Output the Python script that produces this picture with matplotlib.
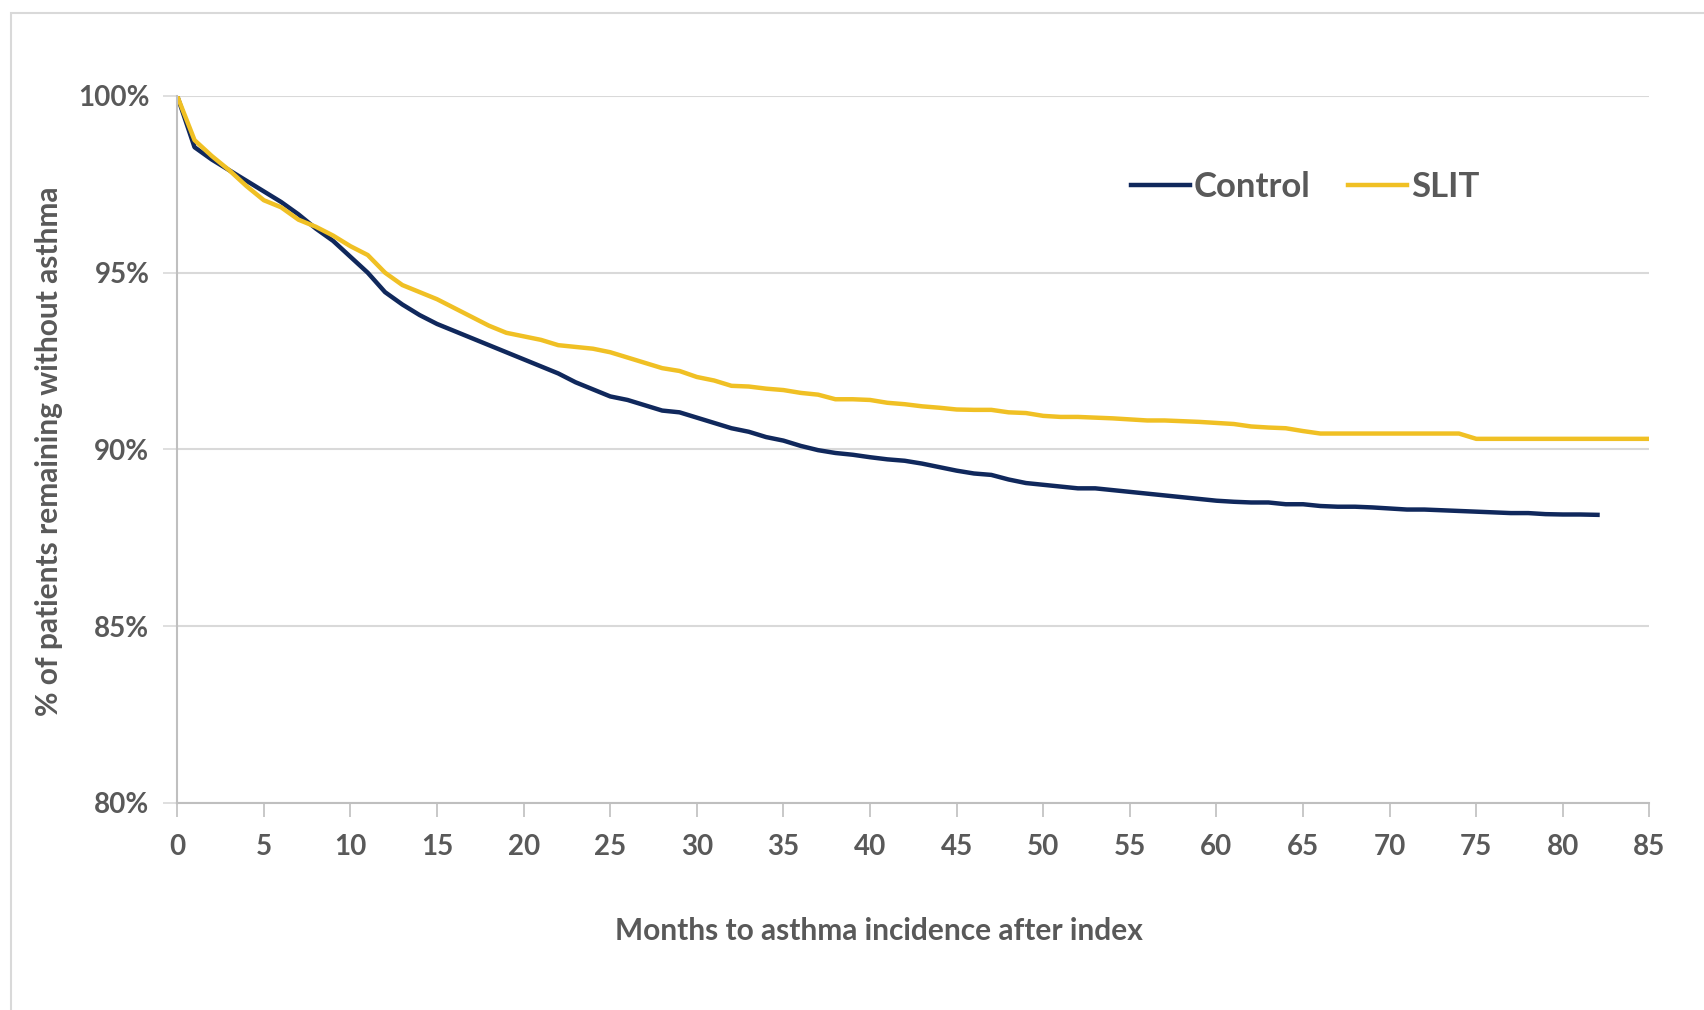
import numpy as np
import matplotlib.pyplot as plt
from matplotlib.patches import Rectangle

# Kaplan-Meier style curves (% without asthma, monthly)
months_control = np.arange(0, 83)
control = [100.0, 98.55, 98.2, 97.9, 97.6, 97.3, 97.0, 96.65, 96.25, 95.9,
           95.45, 95.0, 94.45, 94.1, 93.8, 93.55, 93.35, 93.15, 92.95, 92.75,
           92.55, 92.35, 92.15, 91.9, 91.7, 91.5, 91.4, 91.25, 91.1, 91.05,
           90.9, 90.75, 90.6, 90.5, 90.35, 90.25, 90.1, 89.98, 89.9, 89.85,
           89.78, 89.72, 89.68, 89.6, 89.5, 89.4, 89.32, 89.28, 89.15, 89.05,
           89.0, 88.95, 88.9, 88.9, 88.85, 88.8, 88.75, 88.7, 88.65, 88.6,
           88.55, 88.52, 88.5, 88.5, 88.45, 88.45, 88.4, 88.38, 88.38, 88.36,
           88.33, 88.3, 88.3, 88.28, 88.26, 88.24, 88.22, 88.2, 88.2, 88.17,
           88.16, 88.16, 88.15]

months_slit = np.arange(0, 86)
slit = [100.0, 98.75, 98.3, 97.9, 97.45, 97.05, 96.85, 96.5, 96.3, 96.05,
        95.75, 95.5, 95.0, 94.65, 94.45, 94.25, 94.0, 93.75, 93.5, 93.3,
        93.2, 93.1, 92.95, 92.9, 92.85, 92.75, 92.6, 92.45, 92.3, 92.22,
        92.05, 91.95, 91.8, 91.78, 91.72, 91.68, 91.6, 91.55, 91.42, 91.42,
        91.4, 91.32, 91.28, 91.22, 91.18, 91.13, 91.12, 91.12, 91.05, 91.03,
        90.95, 90.92, 90.92, 90.9, 90.88, 90.85, 90.82, 90.82, 90.8, 90.78,
        90.75, 90.72, 90.65, 90.62, 90.6, 90.52, 90.45, 90.45, 90.45, 90.45,
        90.45, 90.45, 90.45, 90.45, 90.45, 90.3, 90.3, 90.3, 90.3, 90.3,
        90.3, 90.3, 90.3, 90.3, 90.3, 90.3]

x_ticks = np.arange(0, 90, 5)
y_ticks = [80, 85, 90, 95, 100]

txt = '#595959'
grid_c = '#d9d9d9'
plt.rcParams['font.family'] = ['Lato', 'DejaVu Sans']

fig = plt.figure(figsize=(17.04, 10.10), dpi=100)
fig.patches.append(Rectangle((0.0065, -0.01), 1.1, 0.997, transform=fig.transFigure,
                             fill=False, edgecolor='#d9d9d9', linewidth=1.5))

ax = fig.add_axes([0.104, 0.205, 0.864, 0.70])
ax.plot(months_control, control, color='#10285c', linewidth=3.2, label='Control')
ax.plot(months_slit, slit, color='#f0c024', linewidth=3.2, label='SLIT')

ax.set_xlim(0, 85)
ax.set_ylim(80, 100)
ax.set_xticks(x_ticks)
ax.set_yticks(y_ticks)
ax.set_yticklabels([f'{v}%' for v in y_ticks])
ax.grid(axis='y', color=grid_c, linewidth=1.5)
ax.set_axisbelow(True)

for s in ['top', 'right']:
    ax.spines[s].set_visible(False)
for s in ['left', 'bottom']:
    ax.spines[s].set_color('#bfbfbf')
    ax.spines[s].set_linewidth(1.5)
ax.tick_params(axis='x', direction='out', length=10, width=1.2, color='#bfbfbf',
               labelsize=20, labelcolor=txt, pad=12)
ax.tick_params(axis='y', direction='out', length=10, width=1.2, color='#d9d9d9',
               labelsize=20, labelcolor=txt, pad=10)
for lab in ax.get_xticklabels() + ax.get_yticklabels():
    lab.set_fontweight('bold')

fig.text(0.516, 0.078, 'Months to asthma incidence after index', ha='center', va='center',
         fontsize=21.5, fontweight='bold', color=txt)
fig.text(0.029, 0.553, '% of patients remaining without asthma', ha='center', va='center',
         rotation=90, fontsize=21.5, fontweight='bold', color=txt)

leg = ax.legend(loc='center', bbox_to_anchor=(0.766, 0.871), ncol=2, frameon=False,
                fontsize=25, handlelength=1.7, handletextpad=0.1, columnspacing=1.1)
for t in leg.get_texts():
    t.set_color(txt)
    t.set_fontweight('bold')

fig.savefig('out.png', dpi=100, facecolor='white')
